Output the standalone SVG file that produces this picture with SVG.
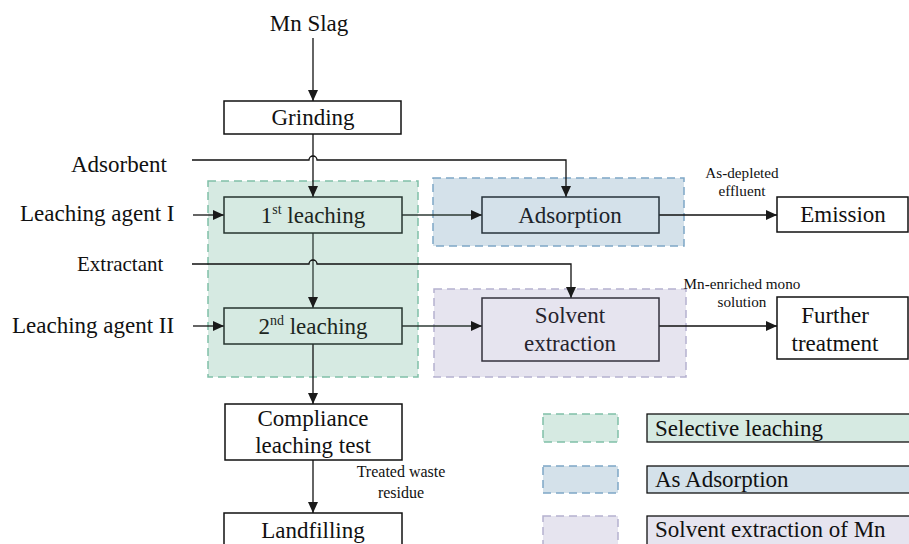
<svg xmlns="http://www.w3.org/2000/svg" width="909" height="544" viewBox="0 0 909 544">
<style>
text{font-family:"Liberation Serif","Times New Roman",serif;fill:#111;}
.t{font-size:23px;text-anchor:middle;}
.l{font-size:23px;}
.s{font-size:15.2px;text-anchor:middle;}
.box{fill:#fff;stroke:#111;stroke-width:1.5;}
.ln{fill:none;stroke:#111;stroke-width:1.3;}
.lg{fill:none;stroke:#2e3a35;stroke-width:1.3;}
.rg{fill:#d6eae2;stroke:#80c0a8;stroke-width:1.5;stroke-dasharray:8 5;}
.rb{fill:#d4e1ea;stroke:#7ea7c6;stroke-width:1.5;stroke-dasharray:8 5;}
.rp{fill:#e6e4ef;stroke:#b5b1cf;stroke-width:1.5;stroke-dasharray:8 5;}
.ng{fill:#d6eae2;stroke:#26352f;stroke-width:1.5;}
.nb{fill:#d4e1ea;stroke:#26323b;stroke-width:1.5;}
.np{fill:#e6e4ef;stroke:#33313d;stroke-width:1.5;}
</style>
<defs>
<marker id="ah" markerWidth="12" markerHeight="10" refX="11" refY="5" orient="auto" markerUnits="userSpaceOnUse">
<path d="M0,0 L11,5 L0,10 Z" fill="#1a1a1a"/>
</marker>
</defs>

<g id="regions">
<rect id="region-selective" class="rg" x="208" y="181" width="210" height="196"/>
<rect id="region-adsorption" class="rb" x="433" y="178" width="251" height="68"/>
<rect id="region-solvent" class="rp" x="434" y="289" width="252" height="88"/>
</g>

<g id="connectors">
<path class="ln" d="M313,38 V101" marker-end="url(#ah)"/>
<path class="ln" d="M313,134 V197" marker-end="url(#ah)"/>
<path class="ln" d="M192,160 H309 A4,4 0 0 1 317,160 H566 V197" marker-end="url(#ah)"/>
<path class="ln" d="M193,215 H224" marker-end="url(#ah)"/>
<path class="lg" d="M402,215 H482" marker-end="url(#ah)"/>
<path class="ln" d="M659,215 H777" marker-end="url(#ah)"/>
<path class="lg" d="M313,233 V308" marker-end="url(#ah)"/>
<path class="ln" d="M192,264 H309 A4,4 0 0 1 317,264 H571 V298" marker-end="url(#ah)"/>
<path class="ln" d="M193,326 H224" marker-end="url(#ah)"/>
<path class="lg" d="M402,326 H482" marker-end="url(#ah)"/>
<path class="ln" d="M659,326 H777" marker-end="url(#ah)"/>
<path class="ln" d="M313,344 V404" marker-end="url(#ah)"/>
<path class="ln" d="M313,460 V513" marker-end="url(#ah)"/>
</g>

<g id="inputs">
<text class="t" x="309" y="31">Mn Slag</text>
<text class="l" x="71" y="172">Adsorbent</text>
<text class="l" x="20" y="221">Leaching agent I</text>
<text class="l" x="77" y="271" style="font-size:21px">Extractant</text>
<text class="l" x="12" y="333">Leaching agent II</text>
</g>

<g id="labels">
<text class="s" x="742" y="178">As-depleted</text>
<text class="s" x="742" y="196">effluent</text>
<text class="s" x="742" y="289">Mn-enriched mono</text>
<text class="s" x="742" y="307">solution</text>
<text class="s" x="401" y="477" style="font-size:16px">Treated waste</text>
<text class="s" x="401" y="498" style="font-size:16px">residue</text>
</g>

<g id="grinding">
<rect class="box" x="224" y="101" width="177" height="33"/>
<text class="t" x="313" y="125">Grinding</text>
</g>

<g id="leaching1">
<rect class="ng" x="224" y="197" width="178" height="36"/>
<text class="t" x="313" y="223" style="fill:#1c2621">1<tspan font-size="14" dy="-9">st</tspan><tspan dy="9"> leaching</tspan></text>
</g>

<g id="adsorption">
<rect class="nb" x="482" y="197" width="177" height="36"/>
<text class="t" x="570" y="223" style="fill:#1c242b">Adsorption</text>
</g>

<g id="emission">
<rect class="box" x="777" y="197" width="131" height="35"/>
<text class="t" x="843" y="222">Emission</text>
</g>

<g id="leaching2">
<rect class="ng" x="224" y="308" width="178" height="36"/>
<text class="t" x="313" y="334" style="fill:#1c2621">2<tspan font-size="14" dy="-9">nd</tspan><tspan dy="9"> leaching</tspan></text>
</g>

<g id="solvent-extraction">
<rect class="np" x="482" y="298" width="177" height="63"/>
<text class="t" x="570" y="323" style="fill:#25232d">Solvent</text>
<text class="t" x="570" y="351" style="fill:#25232d">extraction</text>
</g>

<g id="further-treatment">
<rect class="box" x="777" y="297" width="131" height="62"/>
<text class="t" x="835" y="323">Further</text>
<text class="t" x="835" y="351">treatment</text>
</g>

<g id="compliance">
<rect class="box" x="225" y="404" width="177" height="56"/>
<text class="t" x="313" y="426">Compliance</text>
<text class="t" x="313" y="453">leaching test</text>
</g>

<g id="landfilling">
<rect class="box" x="224" y="513" width="178" height="40"/>
<text class="t" x="313" y="538">Landfilling</text>
</g>

<g id="legend">
<rect class="rg" x="543" y="414" width="75" height="28"/>
<rect x="647" y="414" width="265" height="28" fill="#d6eae2" stroke="#111" stroke-width="1.3"/>
<text class="l" x="655" y="436">Selective leaching</text>
<rect class="rb" x="543" y="466" width="75" height="27"/>
<rect x="647" y="466" width="265" height="27" fill="#d4e1ea" stroke="#111" stroke-width="1.3"/>
<text class="l" x="655" y="487">As Adsorption</text>
<rect class="rp" x="543" y="516" width="75" height="32"/>
<rect x="647" y="516" width="265" height="32" fill="#e6e4ef" stroke="#111" stroke-width="1.3"/>
<text class="l" x="655" y="537">Solvent extraction of Mn</text>
</g>
</svg>
